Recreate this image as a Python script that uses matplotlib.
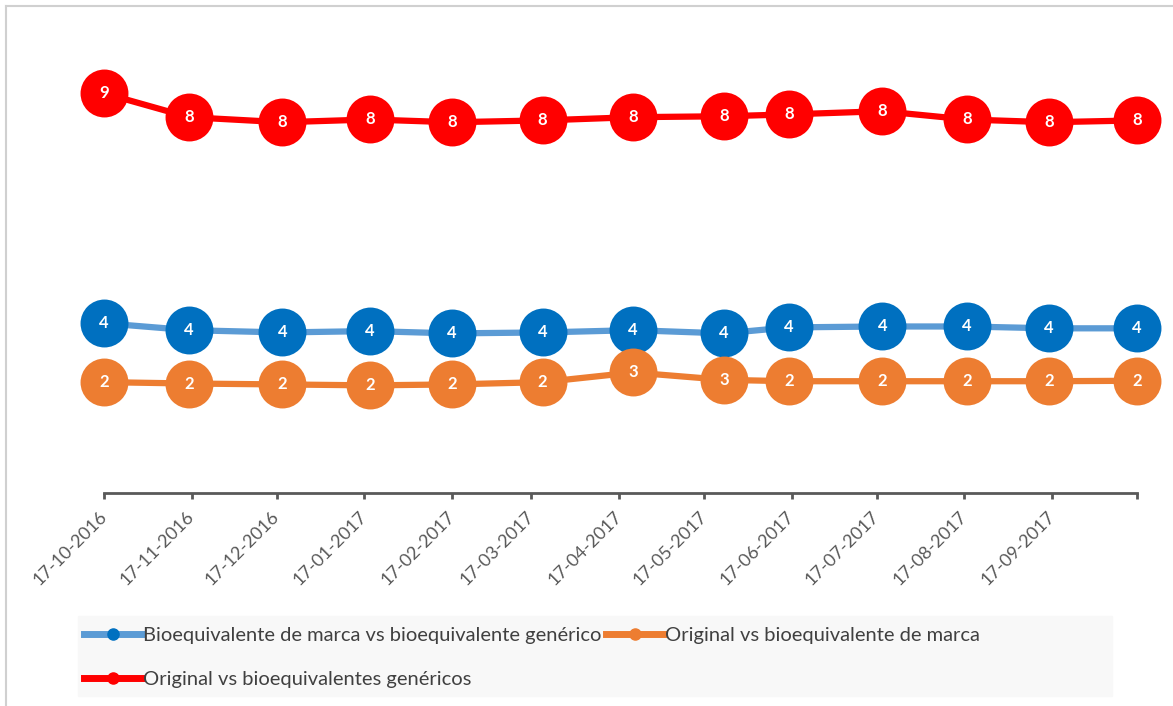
import datetime as dt
import matplotlib
matplotlib.use("Agg")
import matplotlib.pyplot as plt
import matplotlib.dates as mdates
from matplotlib.lines import Line2D
from matplotlib.patches import Rectangle

# fechas de cada medición
fechas = [
    dt.date(2016, 10, 17), dt.date(2016, 11, 16), dt.date(2016, 12, 19),
    dt.date(2017, 1, 19), dt.date(2017, 2, 17), dt.date(2017, 3, 21),
    dt.date(2017, 4, 22), dt.date(2017, 5, 24), dt.date(2017, 6, 16),
    dt.date(2017, 7, 19), dt.date(2017, 8, 18), dt.date(2017, 9, 16),
    dt.date(2017, 10, 17),
]

bio_marca_vs_generico = [3.74, 3.59, 3.54, 3.57, 3.52, 3.54, 3.59, 3.52, 3.65, 3.67, 3.67, 3.63, 3.63]
original_vs_marca = [2.46, 2.43, 2.41, 2.39, 2.41, 2.46, 2.67, 2.51, 2.48, 2.48, 2.48, 2.48, 2.49]
original_vs_genericos = [8.74, 8.22, 8.11, 8.17, 8.11, 8.15, 8.22, 8.24, 8.28, 8.35, 8.17, 8.11, 8.15]

nombres = [
    "Bioequivalente de marca vs bioequivalente genérico",
    "Original vs bioequivalente de marca",
    "Original vs bioequivalentes genéricos",
]

tick_fechas = [dt.date(2016 + (9 + i) // 12, (9 + i) % 12 + 1, 17) for i in range(13)]
tick_labels = [
    "17-10-2016", "17-11-2016", "17-12-2016", "17-01-2017", "17-02-2017",
    "17-03-2017", "17-04-2017", "17-05-2017", "17-06-2017", "17-07-2017",
    "17-08-2017", "17-09-2017", "",
]

plt.rcParams['font.family'] = ['Lato', 'DejaVu Sans']

fig = plt.figure(figsize=(11.73, 7.06), dpi=100)
W, H = 1173, 706
ax = fig.add_axes([104 / W, (H - 493) / H, 1033 / W, 460 / H])

# borde gris del marco (izquierda y arriba)
fig.add_artist(Line2D([6 / W, 6 / W], [0, 1 - 6 / H], color='#d0d0d0', lw=1.5))
fig.add_artist(Line2D([6 / W, 1], [1 - 6 / H, 1 - 6 / H], color='#d0d0d0', lw=1.5))

series = [
    (bio_marca_vs_generico, '#5b9bd5', '#0070c0'),
    (original_vs_marca, '#ed7d31', '#ed7d31'),
    (original_vs_genericos, '#ff0000', '#ff0000'),
]

z = 2
for valores, col_linea, col_marca in series:
    ax.plot(fechas, valores, color=col_linea, lw=4.5, zorder=z,
            solid_capstyle='round', clip_on=False)
    ax.plot(fechas, valores, 'o', color=col_marca, ms=34.5, mew=0, zorder=z + 1,
            clip_on=False)
    for f, v in zip(fechas, valores):
        ax.text(f, v, str(int(v + 0.5)), ha='center', va='center', color='white',
                fontsize=12, fontweight='bold', zorder=10, clip_on=False)
    z += 2

ax.set_xlim(tick_fechas[0], tick_fechas[-1])
ax.set_ylim(0.05, 10.05)
ax.set_yticks([])
for s in ['left', 'right', 'top']:
    ax.spines[s].set_visible(False)
ax.spines['bottom'].set_color('#595959')
ax.spines['bottom'].set_linewidth(2)
ax.spines['bottom'].set_zorder(1)
ax.set_xticks(mdates.date2num(tick_fechas))
ax.set_xticklabels(tick_labels, rotation=45, ha='right', va='center',
                   rotation_mode='anchor', color='#595959', fontsize=13)
ax.tick_params(axis='x', direction='out', length=4, width=2, color='#595959', pad=11)
ax.patch.set_alpha(0)

# leyenda con fondo gris claro
fig.add_artist(Rectangle((78 / W, (H - 696) / H), (1112 - 78) / W, 80 / H,
                         transform=fig.transFigure, color='#f8f8f8', zorder=0))
handles = [
    Line2D([], [], color='#5b9bd5', lw=5, marker='o', ms=8, mfc='#0070c0', mec='#0070c0'),
    Line2D([], [], color='#ff0000', lw=5, marker='o', ms=8),
    Line2D([], [], color='#ed7d31', lw=5, marker='o', ms=8),
]
labels = [nombres[0], nombres[2], nombres[1]]
fig.legend(handles, labels, loc='upper left', bbox_to_anchor=(84 / W, 1 - 627 / H),
           ncol=2, frameon=False, fontsize=14.5, handlelength=2.9, handletextpad=0.05,
           columnspacing=0.2, labelspacing=1.35, borderaxespad=0, borderpad=0,
           labelcolor='#404040')

fig.savefig('out.png', dpi=100, facecolor='white')
